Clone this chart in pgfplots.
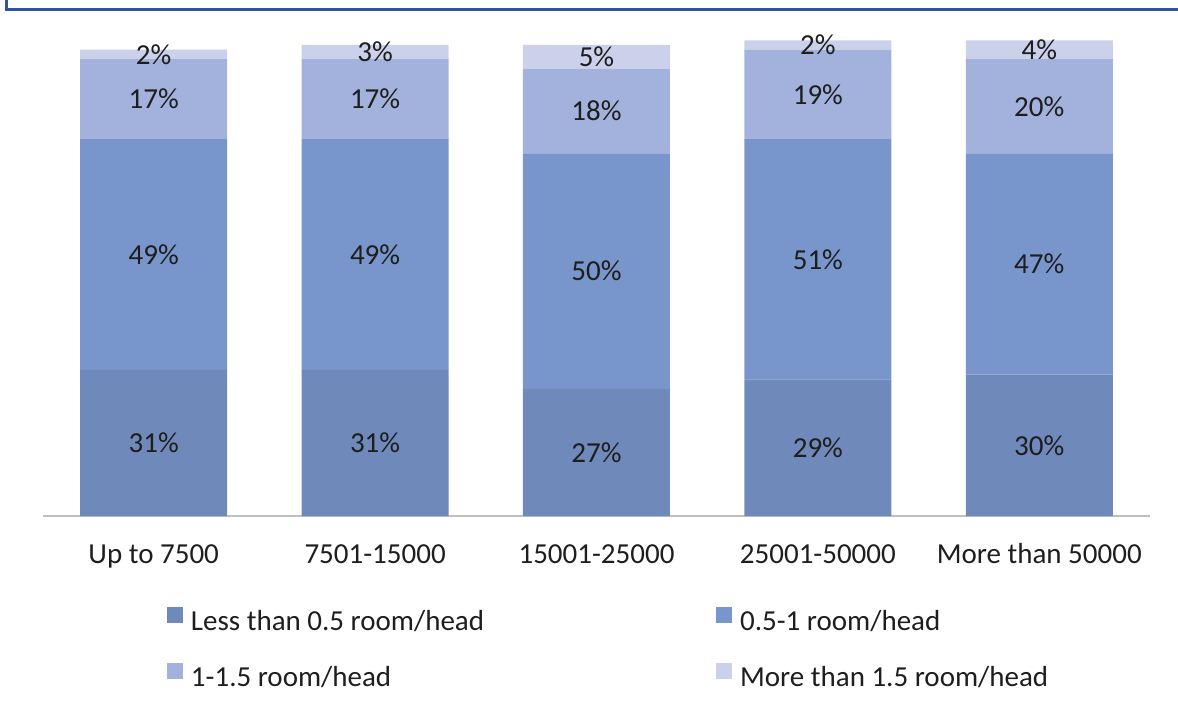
\documentclass[border=0pt]{standalone}
\usepackage{fontspec}
\setmainfont{Carlito}
\usepackage{pgfplots}
\usepackage{pgfplotstable}
\pgfplotsset{compat=1.18}

\definecolor{frameblue}{RGB}{47,84,160}
\definecolor{axisgray}{RGB}{191,191,191}
\definecolor{txt}{RGB}{30,30,30}
\definecolor{cA}{RGB}{111,137,186}
\definecolor{cB}{RGB}{120,150,203}
\definecolor{cC}{RGB}{162,178,220}
\definecolor{cD}{RGB}{203,209,234}

% share of households by rooms per head, per income group
\pgfplotstableread{
x a  b  c  d
0 31 49 17 2
1 31 49 17 3
2 27 50 18 5
3 29 51 19 2
4 30 47 20 4
}\roomtable

\newcommand{\chartfont}{\fontsize{29}{35}\selectfont}

\begin{document}
\begin{tikzpicture}[x=1pt,y=1pt]
\path[use as bounding box] (0,0) rectangle (1178,713);
\draw[frameblue, line width=3.5pt] (6.5,713) -- (6.5,703.5) -- (1178,703.5);
\begin{axis}[
  at={(43pt,197pt)}, anchor=south west,
  scale only axis, width=1107pt, height=471pt,
  xmin=-0.5, xmax=4.5, ymin=0, ymax=100,
  clip=false,
  ybar stacked, bar width=147pt,
  axis y line=none, axis x line*=bottom,
  x axis line style={draw=axisgray, line width=2pt, -},
  xtick={0,1,2,3,4},
  xticklabels={Up to 7500,7501-15000,15001-25000,25001-50000,More than 50000},
  major tick length=0pt,
  xticklabel style={font=\chartfont, text=txt, anchor=base, yshift=-47pt},
  /pgf/number format/assume math mode=true,
  point meta=explicit,
  nodes near coords={\pgfmathprintnumber{\pgfplotspointmeta}\%},
  every node near coord/.append style={font=\chartfont, text=txt, anchor=center},
  legend columns=2,
  legend cell align=left,
  legend style={draw=none, fill=none, inner sep=0pt, outer sep=0pt,
    at={(rel axis cs:0.112,-0.1932)}, anchor=north west,
    font=\chartfont, text=txt,
    nodes={inner sep=0pt, text height=21pt, text depth=6pt},
    row sep=26pt,
    /tikz/every odd column/.append style={column sep=8pt},
    /tikz/every even column/.append style={column sep=232pt}},
  legbox/.style={legend image code/.code={\fill[##1] (0pt,0pt) rectangle (16pt,16pt);}},
]
\addplot[fill=cA, draw=none, legbox] table[x=x, y=a, meta=a]{\roomtable};
\addplot[fill=cB, draw=none, legbox] table[x=x, y=b, meta=b]{\roomtable};
\addplot[fill=cC, draw=none, legbox] table[x=x, y=c, meta=c]{\roomtable};
\addplot[fill=cD, draw=none, legbox] table[x=x, y=d, meta=d]{\roomtable};
\legend{Less than 0.5 room/head, 0.5-1 room/head, 1-1.5 room/head, More than 1.5 room/head}
\end{axis}
\end{tikzpicture}
\end{document}
